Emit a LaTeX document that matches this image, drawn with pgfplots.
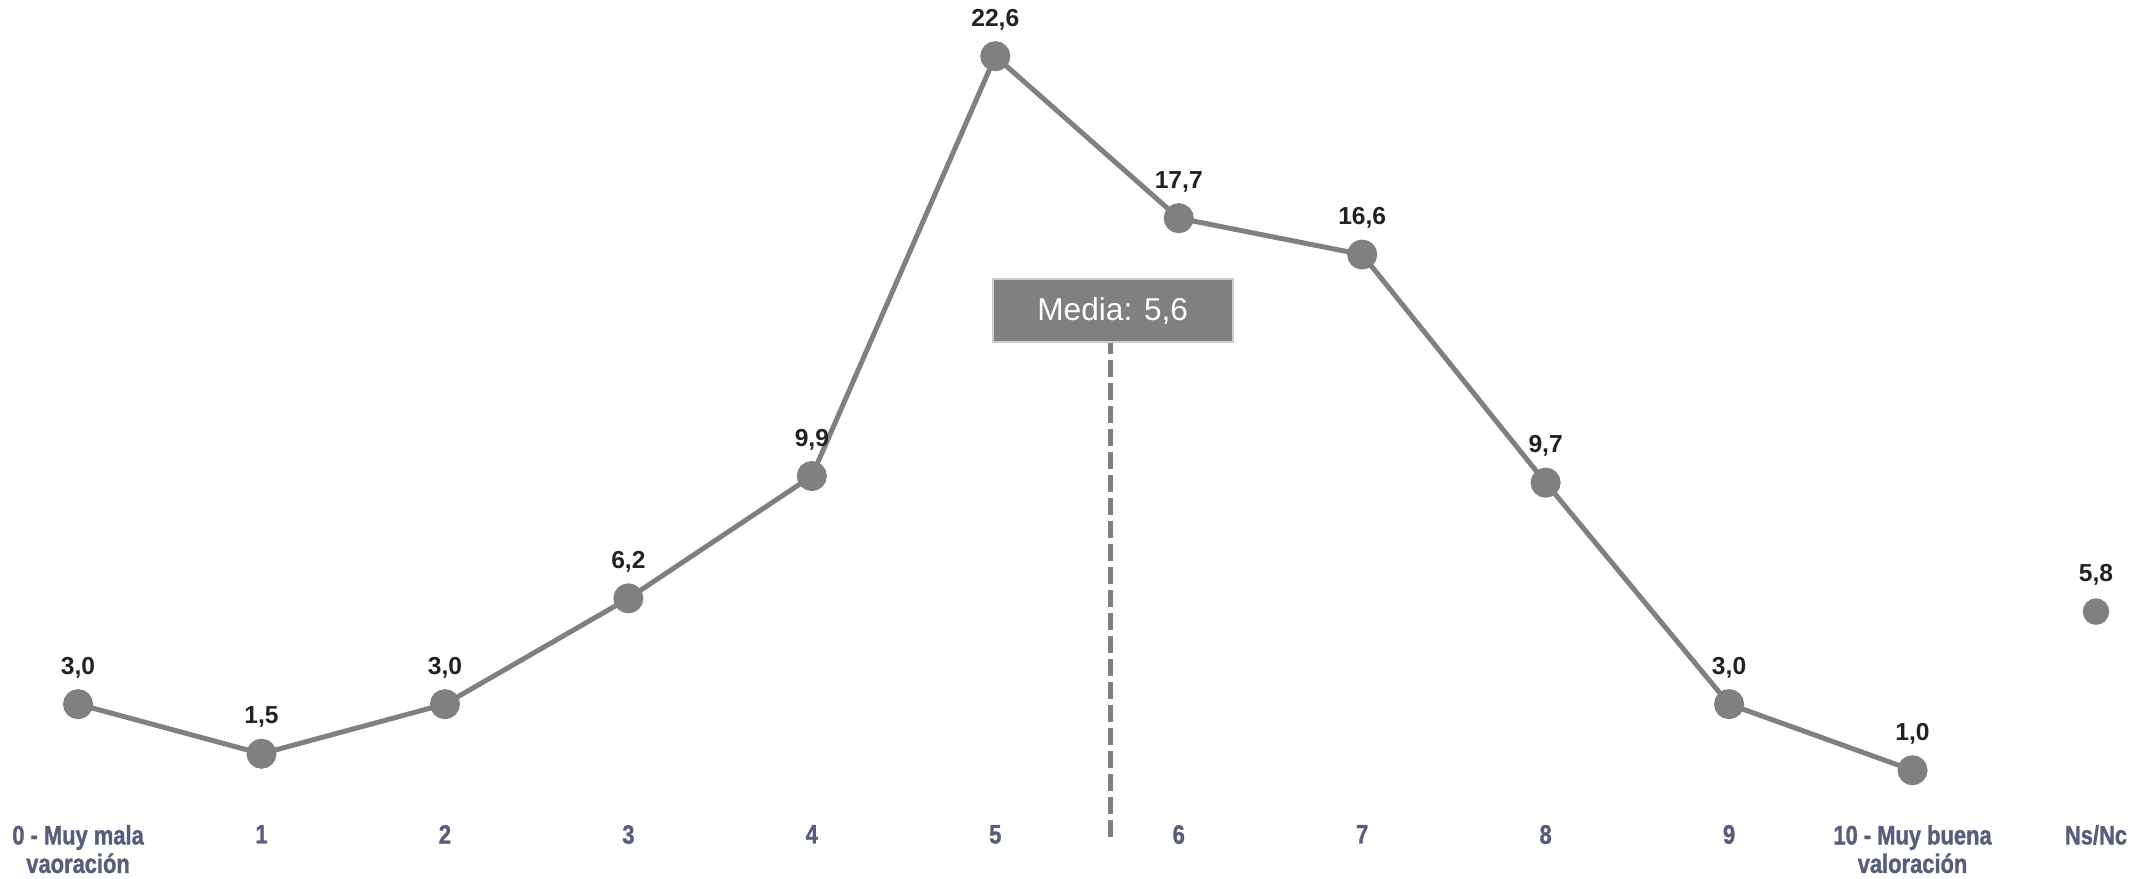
\documentclass[border=0pt]{standalone}
\usepackage{pgfplots}
\pgfplotsset{compat=1.18}
\usepackage{fontspec}
\setmainfont{Liberation Sans}
\newfontfamily\condfont[FakeStretch=0.82,FakeBold=1.2]{Liberation Sans Bold}
\definecolor{ptgray}{HTML}{808080}
\definecolor{lblcol}{HTML}{585D7B}
\definecolor{valcol}{HTML}{222222}
\begin{document}
\begin{tikzpicture}
\begin{axis}[
  scale only axis,
  width=215.1mm, height=81.8mm,
  xmin=-0.4255, xmax=11.3,
  ymin=-0.454, ymax=24.29,
  axis line style={draw=none},
  major tick length=0pt,
  ytick=\empty,
  xtick={0,1,2,3,4,5,6,7,8,9,10,11},
  xticklabels={{0 - Muy mala\\vaoración},1,2,3,4,5,6,7,8,9,{10 - Muy buena\\valoración},Ns/Nc},
  xticklabel style={align=center, text=lblcol, font=\condfont\fontsize{7.6}{8.1}\selectfont, anchor=north, inner sep=0pt, yshift=-0.6mm},
  clip=false,
  point meta=y,
  /pgf/number format/.cd, fixed, fixed zerofill, precision=1, use comma, assume math mode=true,
  /pgfplots/.cd,
  every node near coord/.append style={font=\bfseries\fontsize{7}{8}\selectfont, text=valcol, anchor=base, inner sep=0pt, yshift=3mm},
]
\addplot[ptgray, line width=0.5mm, mark=*, mark size=1.25mm, mark options={fill=ptgray, draw=ptgray}, nodes near coords] coordinates {
(0,3.0) (1,1.5) (2,3.0) (3,6.2) (4,9.9) (5,22.6) (6,17.7) (7,16.6) (8,9.7) (9,3.0) (10,1.0)
};
\addplot[only marks, mark=*, mark size=1.25mm, mark options={fill=ptgray, draw=ptgray}, nodes near coords] coordinates {(11,5.8)};
\addplot[ptgray, line width=0.5mm, dash pattern=on 1.7mm off 0.6mm, forget plot] coordinates {(5.63,-1.03) (5.63,13.94)};
\node[fill=ptgray, draw=black!20, line width=0.2mm, minimum width=24mm, minimum height=6.3mm, text=white, font=\fontsize{9}{10}\selectfont, inner sep=0pt] at (axis cs:5.64,14.9) {Media: 5,6};
\end{axis}
\path ([yshift=-0.5mm]current bounding box.south) -- ++(0,0);
\end{tikzpicture}
\end{document}
